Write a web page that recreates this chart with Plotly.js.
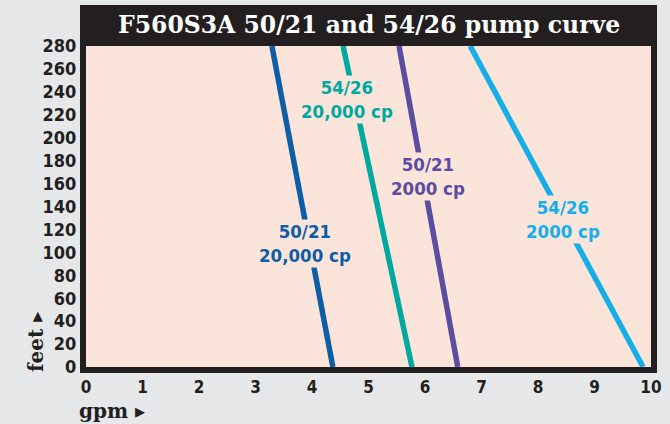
<!DOCTYPE html>
<html>
<head>
<meta charset="utf-8">
<script src="https://cdn.plot.ly/plotly-3.0.1.min.js"></script>
<style>html,body{margin:0;padding:0;background:#e6e7e9;}#chart{width:670px;height:424px;}</style>
</head>
<body>
<div id="chart"></div>
<script>
// Data (gpm at 0 ft and at 280 ft)
const feet = [0, 280];
const gpm_50_21_20000 = [4.37, 3.29];
const gpm_54_26_20000 = [5.77, 4.55];
const gpm_50_21_2000  = [6.58, 5.54];
const gpm_54_26_2000  = [9.86, 6.80];

const seriesNames = ["50/21<br>20,000 cp", "54/26<br>20,000 cp", "50/21<br>2000 cp", "54/26<br>2000 cp"];
const seriesColors = ["#0d5ea6", "#00a9a0", "#5b4ea1", "#14aee9"];
const xTicks = [0,1,2,3,4,5,6,7,8,9,10];
const yTicks = [0,20,40,60,80,100,120,140,160,180,200,220,240,260,280];
const titleText = "F560S3A 50/21 and 54/26 pump curve";

const series = [gpm_50_21_20000, gpm_54_26_20000, gpm_50_21_2000, gpm_54_26_2000];
// label positions (gpm, feet)
const labelPos = [[3.88,108],[4.62,233],[6.05,166],[8.44,129]];

const PINK = "#fbe4da";
const BLACK = "#231f20";
const labelFont = "DejaVu Sans Condensed, DejaVu Sans, sans-serif";
const serifFont = "DejaVu Serif, serif";

const traces = series.map((s,i)=>({
  x: s, y: feet, type: "scatter", mode: "lines",
  line: {color: seriesColors[i], width: 5.5},
  hoverinfo: "skip", showlegend: false
}));

const W = 565, H = 321;
const annotations = series.map((s,i)=>({
  x: labelPos[i][0], y: labelPos[i][1], xref: "x", yref: "y",
  xanchor: "center", yanchor: "middle",
  text: seriesNames[i], showarrow: false,
  font: {family: labelFont, size: 18.5, color: seriesColors[i], weight: "bold"},
  bgcolor: PINK, borderpad: 1, align: "center"
}));
annotations.push({
  x: 0.5, y: 1 + 21/H, xref: "paper", yref: "paper", showarrow: false,
  xanchor: "center", yanchor: "middle",
  text: "<b>" + titleText + "</b>",
  font: {family: serifFont, size: 23.5, color: "#ffffff"}
});
annotations.push({
  x: -50/W, y: 25/H, xref: "paper", yref: "paper", showarrow: false,
  xanchor: "center", yanchor: "middle",
  text: "<b>feet ▸</b>", textangle: -90,
  font: {family: serifFont, size: 20, color: BLACK}
});
annotations.push({
  x: 26/W, y: -44/H, xref: "paper", yref: "paper", showarrow: false,
  xanchor: "center", yanchor: "middle",
  text: "<b>gpm ▸</b>",
  font: {family: serifFont, size: 20, color: BLACK}
});

const tickFont = {family: labelFont, size: 18, color: BLACK, weight: "bold"};
const xTickFont = {family: labelFont, size: 17, color: BLACK, weight: "bold"};

const layout = {
  width: 670, height: 424,
  margin: {l: 86, r: 19, t: 46, b: 57, pad: 0},
  paper_bgcolor: "#e6e7e9",
  plot_bgcolor: PINK,
  showlegend: false,
  xaxis: {
    range: [0, 10], tickvals: xTicks, ticktext: xTicks.map(String),
    showgrid: false, zeroline: false, showline: true, linewidth: 6, linecolor: BLACK,
    mirror: true, ticks: "", tickfont: xTickFont, fixedrange: true
  },
  yaxis: {
    range: [0, 280], tickvals: yTicks, ticktext: yTicks.map(String),
    showgrid: false, zeroline: false, showline: true, linewidth: 6, linecolor: BLACK,
    mirror: true, ticks: "", tickfont: tickFont, fixedrange: true
  },
  shapes: [{
    type: "rect", xref: "paper", yref: "paper",
    x0: -6/W, x1: 1 + 6/W, y0: 1, y1: 1 + 41/H,
    fillcolor: BLACK, line: {width: 0}, layer: "below"
  }],
  annotations: annotations
};

Plotly.newPlot("chart", traces, layout, {displayModeBar: false, staticPlot: true});
</script>
</body>
</html>
